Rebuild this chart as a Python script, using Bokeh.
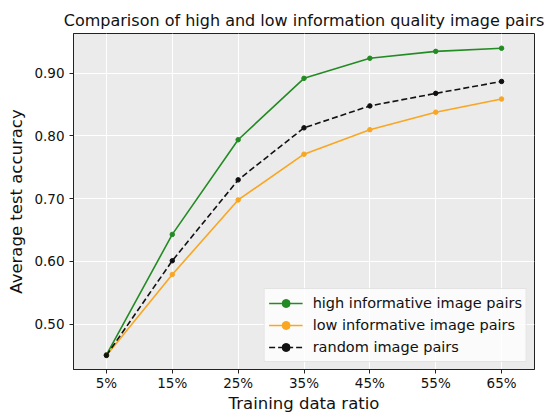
from bokeh.plotting import figure
from bokeh.models import FixedTicker, Range1d, Legend, LegendItem, NumeralTickFormatter
from bokeh.embed import file_html
from bokeh.resources import INLINE

ratios = [5, 15, 25, 35, 45, 55, 65]
tick_labels = ["5%", "15%", "25%", "35%", "45%", "55%", "65%"]
high = [0.451, 0.643, 0.794, 0.892, 0.924, 0.935, 0.940]
low = [0.450, 0.579, 0.698, 0.771, 0.810, 0.838, 0.859]
rand = [0.450, 0.601, 0.730, 0.813, 0.848, 0.868, 0.887]
y_ticks = [0.5, 0.6, 0.7, 0.8, 0.9]

FONT = "DejaVu Sans"

p = figure(width=552, height=415, output_backend="svg", toolbar_location=None,
           x_range=Range1d(0, 70), y_range=Range1d(0.4275, 0.9635),
           title="Comparison of high and low information quality image pairs",
           min_border_left=73, min_border_right=18, min_border_bottom=40, min_border_top=33)

p.title.text_font = FONT
p.title.text_font_size = "16px"
p.title.text_font_style = "normal"
p.title.align = "center"
p.title.text_color = "#111111"
p.title.standoff = 8

p.background_fill_color = "#EBEBEB"
p.border_fill_color = "white"
p.outline_line_color = "#222222"
p.outline_line_width = 1

for g in (p.xgrid, p.ygrid):
    g.grid_line_color = "white"
    g.grid_line_width = 1

p.xaxis.ticker = FixedTicker(ticks=ratios)
p.xaxis.major_label_overrides = {r: t for r, t in zip(ratios, tick_labels)}
p.yaxis.ticker = FixedTicker(ticks=y_ticks)
p.yaxis.formatter = NumeralTickFormatter(format="0.00")

for ax in (p.xaxis, p.yaxis):
    ax.axis_line_color = "#222222"
    ax.major_tick_line_color = "#222222"
    ax.major_tick_out = 4
    ax.major_tick_in = 0
    ax.minor_tick_line_color = None
    ax.major_label_text_font = FONT
    ax.major_label_text_font_size = "13.5px"
    ax.major_label_text_color = "#111111"
    ax.axis_label_text_font = FONT
    ax.axis_label_text_font_size = "16.5px"
    ax.axis_label_text_font_style = "normal"
    ax.axis_label_text_color = "#111111"

p.xaxis.axis_label = "Training data ratio"
p.yaxis.axis_label = "Average test accuracy"
p.xaxis.major_label_standoff = 1
p.xaxis.axis_label_standoff = 0
p.yaxis.major_label_standoff = 5
p.yaxis.axis_label_standoff = 5

GREEN = "#238b23"
ORANGE = "#F9A621"
BLACK = "#111111"

r1 = p.line(ratios, high, line_color=GREEN, line_width=1.6)
c1 = p.scatter(ratios, high, size=4.5, color=GREEN)
r2 = p.line(ratios, low, line_color=ORANGE, line_width=1.6)
c2 = p.scatter(ratios, low, size=4.5, color=ORANGE)
r3 = p.line(ratios, rand, line_color=BLACK, line_width=1.6, line_dash="6 3")
c3 = p.scatter(ratios, rand, size=4.5, color=BLACK)

legend = Legend(items=[
    LegendItem(label="high informative image pairs", renderers=[r1, c1]),
    LegendItem(label="low informative image pairs", renderers=[r2, c2]),
    LegendItem(label="random image pairs", renderers=[r3, c3]),
], location="bottom_right")
legend.label_text_font = FONT
legend.label_text_font_size = "14.5px"
legend.label_text_color = "#111111"
legend.background_fill_color = "white"
legend.background_fill_alpha = 0.8
legend.border_line_color = "#cccccc"
legend.border_line_width = 1
legend.glyph_width = 34
legend.glyph_height = 20
legend.label_height = 20
legend.spacing = 2
legend.padding = 4
legend.margin = 7
legend.label_standoff = 10
p.add_layout(legend)

open("out.html", "w").write(file_html(p, INLINE))
